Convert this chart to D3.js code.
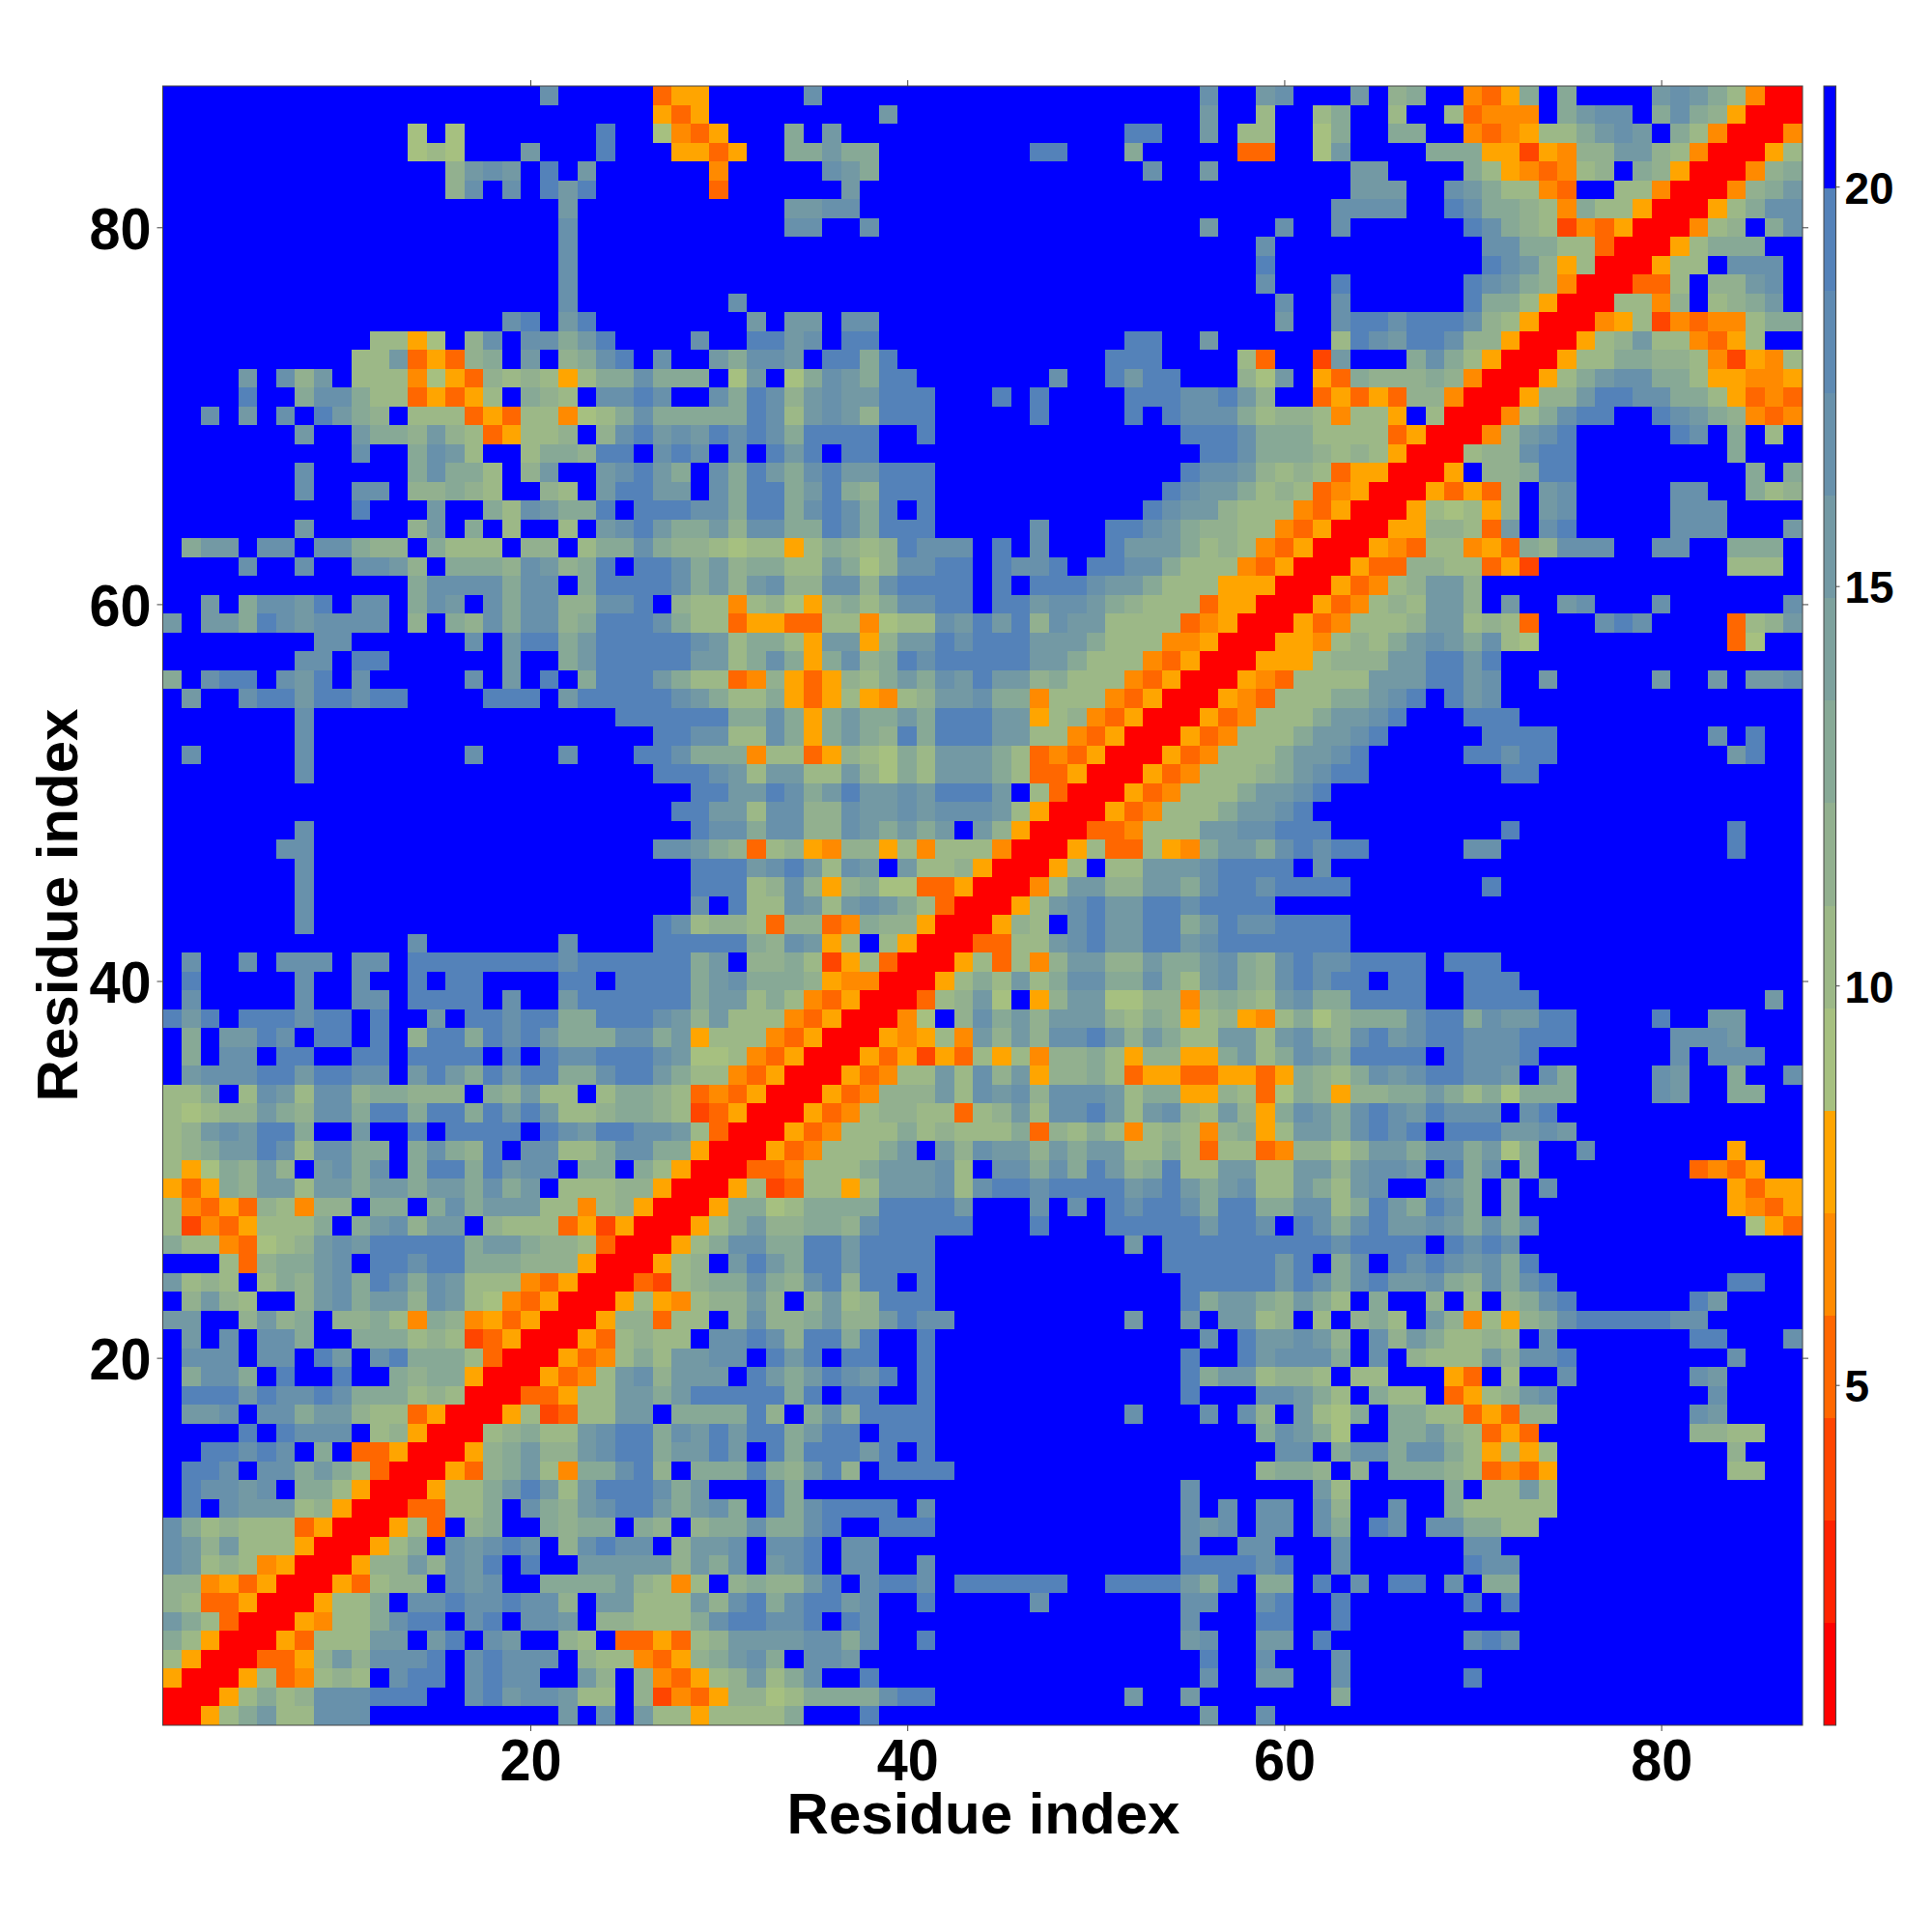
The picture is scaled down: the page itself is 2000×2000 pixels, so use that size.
<!DOCTYPE html>
<html><head><meta charset="utf-8">
<script src="https://cdn.jsdelivr.net/npm/d3@7"></script>
<style>html,body{margin:0;background:#fff}svg{display:block}
text{font-family:"Liberation Sans",Arial,sans-serif;font-weight:bold;fill:#000}</style>
</head><body><svg id="c" width="2000" height="2000"></svg>
<script>
// Contact map. First row = residue 87, last row = residue 1.
// Each glyph is a colour band read per cell; {n} = n cells in the top (blue) band.
const mapRows = [
"{20}c{5}355 {5}c{20}c{2} bcfffbf9aff435afaffffbcba8400",
"{26}535 {9}b{16}b{2} 8ff8aff8ff83444fabccfaca95000",
"{13}7f7{7}dff643 5fffafb{15}ddffbf8 8ff7affaaff434588abcbfa840004",
"{13}787fffbfffdfff55 35ffaabaa{8}ddfffa{5}3 3ff7bffffaaa5525499bb98400058",
"{15}9bcbfdfb{6} 4fffffcba{14}cffbff fffffbbffffa8543489fa9500049a",
"{15}9cfcfdbd{6} 3ffffffb{21} fffffbbbffcba8843ff88400049ab",
"{21}b{7} ffffbbcc{21} ffffccccffdcaa984a88500058acc",
"{21}c{7} ffffccffc{17}bff fcffc{6}dca982435000489fac",
"{21}c{7} {29} c{11}ccaa88300058aaaff",
"{21}c{7} {29} d{11}dcb958000588fcccf",
"{21}c{7} {29} cfffd{6}dcba94000338f99bcf",
"{21}c{7} fc{27} fcffc{6}daa850008849f89abf",
"{18}cdfbd{6} ffbfbbfcc{20} fbffcddcdddc985000458243448aa",
"{11}8857f9cfccabdffffc ffddbcfdd{13}ddffbff ffff8dcbddc995000589b884358ff",
"ffffffffff88b3539afbf9acdfcff baccbfddad{11}dddffff8 3ff2bfffaca85000588aa99842548",
"ffffbfc9bf8884753989858aacaaa f7bf7acbadd{7}cffdbddfff9 7bf53a999a9400058abccaa855445",
"ffffdffacca8835358fa98fccdcff cadc9bcbbdddfffdfdffffdddccdb 9ff35353994000599bddccaa85343",
"ffcfbfcfdba9f88835388478acaaa aadc8bcb9dddfffffdffffdfdccca 89984885f800048acddffdcba9434",
"{7}bffbaa9b9835889f9cdbcb dcdcaddddffd{13}dddc aaa88883500049bcdfffffdcfaf8f",
"{10}cffacb8ff8aa9ddfcdc fcfdbdfdd{17}ddc aaa98985000899cdd{8}afff",
"{7}c{5}acaa8f9bffbcdbaf cadbacdbbddd{13}dccb 98983550005f99add{9}afa",
"{7}cffccf99a98ff98fbddbbf caddabda9ddd{12}dcbba 89834500053539fbc{5}ccffa89",
"{10}dfffbffa8cbaadfdddc caddacdcadfd{11}dcbb98 88435000587859fbc{5}cccffff",
"{7}b{5}9bfaf8ff8fbcdbaa b9ccaadcaddd{5}cfffddcba998 8435000559983bfcd{5}cccfffb",
"fabbfccfcca99fa888f99f8aaca99 878858a989dcccfdfcfffdbbba898 43500054388453a9cccffccffaaaf",
"ffffcffcffccb9faaa9cb9adfddca b9aa88ba79ccddfdccdfddcca8884 350005339988352{10}888f",
"{13}accccaccfaddddca b9bc99cc9cddddfdfdddcbba88855 500053489bb9{17}",
"ffbfaccbdfccfacbfcacc99ccdf98 8489759a8accddfddbccba9888355 000534898bb9fbffbcfffcffffffc",
"bfbbadcbccccf9fa9cacc9adddca8 835533884788cbdbd9cbb88883450 005348889bb8983fffcdcffff389b",
"{8}cc{6}cfbddabdddddc b8aa85bb59bbdcdddbbba88844500 0554898abcbac87{10}37ff",
"{7}ccfdd{6}bffabdddddb b8aca5ac9adcdddddbba888435000 5558999bbddbd{16}",
"afcddfcbdfc{5}cfbfdfadddba8 834953598abacbdbb9a8884350005 438888bbbddbcffb{5}bffbfbbc",
"fbffcddbddcddffffdddfbdddddcb a88a53585489bbcaa488843500054 3888aabcdfdbc{16}",
"{7}c{16}ddddd daaca5abaabadddbb589435000534 888abbcdfffddd{15}",
"{7}c{18}ddc c88ca5aba9dadddbb884350005348 88abbcd{5}dddd{8}cfdff",
"fcfffffc{8}c{4}c{3}ddca aa48835987a8bbba8343500053488 8abbcd{5}ddcdd{9}bdff",
"{7}c{18}ddd cb8bb88b97a8bbba8335000534888 9abcdd{7}dd{14}",
"{28}d dbbdcabdbbcbdddbf83000534888a bbcd{25}",
"{27}dd bb8cc99cbbcbcccb85000534888ab bcd{26}",
"{7}c{20}d ccacc99cbababfb95000334888bbc cddd{9}d{11}dfff",
"{6}cc{18}ccb a9389549958488840005833854abb acdcdd{5}cc{12}dfff",
"{7}c{20}d ddbcdb8cbfb889500058f88bbbcdd ddfc{25}",
"{7}c{20}d dd89c959a7733500048bb99bbacdd cdddd{7}d{16}",
"{7}c{20}c fd88cb8bcba8300058bcdbbddcddd d{28}",
"{7}c{18}dc8 99839934a995000598fcdbbddabdc cdddd{24}",
"{13}c{7}c{4}ddd dda9cb58f850003388bcdbbddbcdd ddddd{24}",
"fcffcfcccfccfddddddddcdddddda bf99a82583000583849bb99baabca 9cdccddddfddd{16}",
"fd{5}cffcffdfddffffddfdddda bcaaa954400058a8b8accaaca8bca 9cdcddfddffddd{15}",
"fc{5}cffccfddddfcffbdddddda bb8a8435000389b7f59bb779949a9 8bcaaddddffdddd{12}bf",
"dbdfdddcddfdffbfddcddaadddcb9 b88843500047f9cab9bbb98a95895 48a79aaacddacbbddffffdffbbfff",
"fafbbdcfddfdf9ddadcdbaaaccab5 88843500054584b9b9ccdb9ba88bb 8bca9cdbcddcccdddfffffcccbfff",
"fafccfddffddfddddfdfdccdddcb6 78435000535253858499a859955ab 8acbaddddfdcccd{7}cfcccff",
"fbcccddbddccfbdbadbddaacddba8 843500053488b8c9b599a83553355 35a98acbcddccbfcaffffcbffaffc",
"88af8cb8cc9aa999fa9b88f8aa983 435000534999b8cbc9cccb8aa5598 37a9599aaba8a7aaaffffcbffaaff",
"87899ba9ccaddaddadbdb889aa982 3500053489988389b8ccdb8bc98b9 5acbacdcbdcccfcd{13}",
"89bcbddaffbffdfddddfdcbddccb8 3000534888a89888a398a8489849a 58bbacdcdfdddbbcb{12}",
"89abbdc8ccaafaca9dfcc88accaa5 000534888abfb9cbb9babb88a8388 349979bbaccab7affc{7}5fff",
"857a9b9fbcacfaddadbccfaafa850 00334888abbbc8fccacadb9ad88bb 88bb9bccbfdacfa{8}3435ff",
"535a9bb8bbabbabbacabf88899500 058238858bbbc8cddcddddbcdbabc 88ba8bcffcbafafc{9}5355",
"8435398499faafacabbb884895000 5aa78aaaaddddbfffcfcfdcddcadd aacc8adbadcafa{11}5435",
"82435888afabc9bbf988835250005 8ab99aa9cdddddfffdfffdddddbdd cfdcacdbbcbacac{11}753",
"a8843789bcbdddddabba998300058 accaaddbdddd{10}bfddddd ddddcddddfdcdc{15}",
"fff839aabcfddcddaaa9995000589 fbdbaddbdddd{12}ddddd dbdfacfdcdcbcad{14}",
"b898f8a9bcadcacb8884350003289 aaca9cd9ddfd{13}dddd dbdcacdbbca9cacd{9}ddff",
"f9b98ff9bcabb9cb8743500058548 99b9f9b89ddd{13}dabb a9ba8faff9f8f9acd{6}dbffff",
"bbff9b9af99a84a94535000599388 f9c99ab99bdcc{9}bffbfbb 89f8f9a8fb94859acdddddcc{5}",
"fbfcfccaffaaa898235000538988f ccdc9ddadffd{14}cfd bbcb9fc9ba8898fc{7}ddfffc",
"fcccfccfdbfcdaaa830005348a8bb ccfdbdfddffd{13}dffd bcccafcf9888b9ccd{8}cfff",
"faccafdffdffa9aa50005348bc9bb bfdbabdcbdfd{13}dabb 8998f88fff53f8ffc{6}cbffff",
"fdddbdccdcaaa89800033588bbabd ddddadfddffd{13}dfff ccba8fa88f3589bc{8}cffff",
"fbbcfccabb98835000582388bbfaa aad9fac9dddd{10}cfffcfc 9fb87afaa8835399{7}cb{4}",
"ffffdfdcccf89500089a88bcddacb dbddabddfddd{17} acba7ffaab98353{8}9988ff",
"ffddcdcfaf33500059ab99bcddabb dbfdadddbdfd{17} fccfaccacca85858{9}9fff",
"fddcfccaba83000539ab84aacd9fa aada9bd9fdddd{16} 9aa9f9faaa983435{9}88ff",
"fdccbcfaa85000588abdb8bdddcab fffda{20}cfff fffb8{5}af88b8{13}",
"fdfcbbb8950003388afca9bcddbab cafdacddddfc{13}cfcf ccfc9ffcffa88888{13}",
"ca8988835000583f9affa9aafa9f9 aacaacdffddd{13}cbcf ccfcafdcfccaa88{14}",
"cb9b888500058afcbcdcf9cdccf9b bcfccdfcc{16}cffc cfffc{6}cc{16}",
"cb89845000599b9cbdfdffbbbbb9b acfbcdfccffc{13}dddd cdffc{6}dcc{15}",
"99453500053899fcbcffaaaab9848 f9a99bdfcddcfddddddffddddbadf aafdfcfddfcfaa{15}",
"98335000588afccdccdcc9fbb888b 9cdacddbcffd{5}c{7}ccff cdffd{6}dfd{15}",
"ba830005488acddfcdfccbf99888a cddccdfdc{16}cfff ddffd{24}",
"a8500053888bbfbdfcbff98f33538 9bbbbccacffd{13}bcff bbfd{7}cdc{15}",
"850003359b9cccdfcdcccf9884359 abcafccb{18}dff cfffc{24}",
"50005834898fcddfcdccffb9f9435 89b8acffd{17}cff bbffc{6}d{17}",
"00058a89cccdddffcdbccb88f9243 59978aaaacdd{10}bffb{3} ffffa{24}",
"0058ab88ccc{10}bfcfb885 8888afffd{17}bff c{28}"
];
// distance (Angstrom) standing for each read band
const bandDistance = {"0":1.38,"1":2.66,"2":3.95,"3":5.23,"4":6.51,"5":7.79,"6":9.08,"7":9.08,"8":10.36,"9":11.64,"a":12.92,"b":15.49,"c":16.77,"d":19.34,"f":20.62};
const palette = ["#ff0000","#ff2200","#ff4500","#ff6700","#ff8a00","#ffa500","#a6c080","#9cb887","#92b08f","#87a996","#7da19d","#7399a4","#6891ab","#5e8ab2","#5482b9","#0000ff"];
const axisTicks = [20,40,60,80];
const barTicks = [5,10,15,20];
const valueDomain = [0.74,21.26];
const nRes = 87;
const xLabel = "Residue index", yLabel = "Residue index";

const cells = [];
mapRows.forEach((row,r)=>{
  const s = row.split(" ").map(seg=>seg.replace(/\{(\d+)\}/g,(m,n)=>"f".repeat(+n)).padEnd(29,"f").slice(0,29)).join("");
  [...s].forEach((g,c)=>cells.push({i:c+1,j:nRes-r,v:bandDistance[g]}));
});

const L=168.5,R=1866,T=89,B=1786;
const x=d3.scaleLinear().domain([0.5,nRes+0.5]).range([L,R]);
const y=d3.scaleLinear().domain([0.5,nRes+0.5]).range([B,T]);
const color=d3.scaleQuantize().domain(valueDomain).range(palette);
const svg=d3.select("#c");

svg.append("g").attr("shape-rendering","crispEdges").selectAll("rect").data(cells).join("rect")
 .attr("x",d=>x(d.i-.5)).attr("width",d=>x(d.i+.5)-x(d.i-.5))
 .attr("y",d=>y(d.j+.5)).attr("height",d=>y(d.j-.5)-y(d.j+.5))
 .attr("fill",d=>color(d.v));

function styleAxis(g,size,len){
  g.select(".domain").remove();
  g.selectAll("line").attr("stroke","#444").attr("stroke-width",1);
  g.selectAll("text").style("font-size",size+"px").style("font-family",'"Liberation Sans"').style("font-weight","bold").attr("fill","#000");
  if(len) g.selectAll("text").attr("textLength",len).attr("lengthAdjust","spacingAndGlyphs");
}
svg.append("g").attr("transform",`translate(0,${B})`)
 .call(d3.axisBottom(x).tickValues(axisTicks).tickSize(6).tickPadding(8)).call(g=>styleAxis(g,61,64));
svg.append("g").attr("transform",`translate(${L},0)`)
 .call(d3.axisLeft(y).tickValues(axisTicks).tickSize(6).tickPadding(6)).call(g=>{styleAxis(g,61,64);g.selectAll("text").attr("dy","0.36em");});
svg.append("g").attr("transform",`translate(0,${T})`)
 .call(d3.axisTop(x).tickValues(axisTicks).tickSize(6).tickFormat("")).call(g=>styleAxis(g,10));
svg.append("g").attr("transform",`translate(${R},0)`)
 .call(d3.axisRight(y).tickValues(axisTicks).tickSize(6).tickFormat("")).call(g=>styleAxis(g,10));
svg.append("rect").attr("x",L).attr("y",T).attr("width",R-L).attr("height",B-T)
 .attr("fill","none").attr("stroke","#444").attr("stroke-width",1);

svg.append("text").attr("x",1018).attr("y",1898).attr("text-anchor","middle").style("font-size","60px").text(xLabel);
svg.append("text").attr("transform","translate(80,937) rotate(-90)").attr("text-anchor","middle").style("font-size","60px").text(yLabel);

// colour bar
const barL=1888,barR=1900.5;
const barY=d3.scaleLinear().domain(valueDomain).range([B,T]);
svg.append("g").attr("shape-rendering","crispEdges").selectAll("rect").data(palette).join("rect")
 .attr("x",barL).attr("width",barR-barL)
 .attr("y",d=>barY(color.invertExtent(d)[1])).attr("height",d=>barY(color.invertExtent(d)[0])-barY(color.invertExtent(d)[1]))
 .attr("fill",d=>d);
svg.append("rect").attr("x",barL).attr("y",T).attr("width",barR-barL).attr("height",B-T)
 .attr("fill","none").attr("stroke","#444").attr("stroke-width",1);
svg.append("g").attr("transform",`translate(${barR},0)`)
 .call(d3.axisRight(barY).tickValues(barTicks).tickSize(4).tickPadding(5)).call(g=>{styleAxis(g,46);g.selectAll("text").attr("dy","0.37em");});
</script>
</body></html>
